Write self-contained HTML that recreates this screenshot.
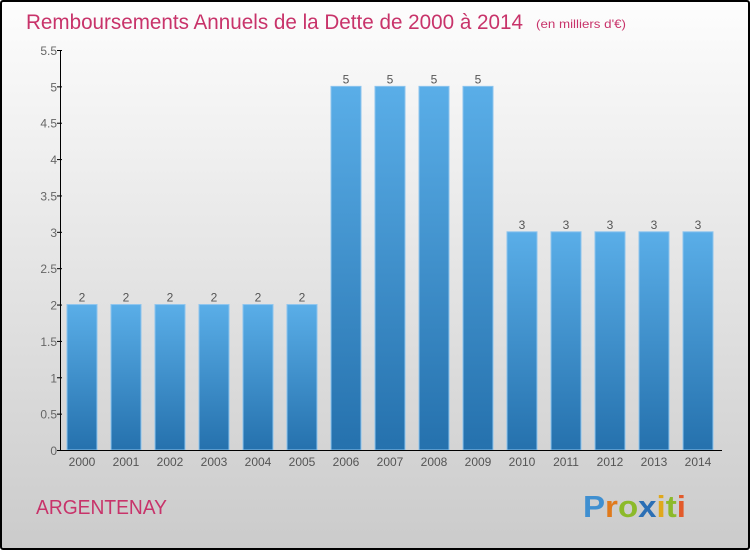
<!DOCTYPE html>
<html><head><meta charset="utf-8"><style>
html,body{margin:0;padding:0}
body{width:750px;height:550px;overflow:hidden;font-family:"Liberation Sans",sans-serif}
#frame{position:absolute;left:0;top:0;width:746px;height:546px;border:2px solid #000;border-radius:3px;background:linear-gradient(#fdfdfd,#cbcbcb)}
</style></head><body>
<div id="frame"></div>
<svg id="chart" width="750" height="550" style="position:absolute;left:0;top:0">
<defs><linearGradient id="bg" x1="0" y1="0" x2="0" y2="1"><stop offset="0" stop-color="#5aaee8"/><stop offset="1" stop-color="#2571ad"/></linearGradient></defs>
<text x="26" y="29" font-size="21" textLength="497" lengthAdjust="spacingAndGlyphs" fill="#c8336a">Remboursements Annuels de la Dette de 2000 à 2014</text>
<text x="536" y="28" font-size="12" textLength="90" lengthAdjust="spacingAndGlyphs" fill="#c8336a">(en milliers d'€)</text>
<g id="bars"></g>
<g id="axes"></g>
<text x="36" y="514" font-size="20" textLength="131" lengthAdjust="spacingAndGlyphs" fill="#c8336a">ARGENTENAY</text>
<g font-size="31" font-weight="bold">
<text x="583" y="517" textLength="103" lengthAdjust="spacingAndGlyphs"><tspan fill="#3f8fd0">P</tspan><tspan fill="#e07a1c">r</tspan><tspan fill="#8cba2a">o</tspan><tspan fill="#2b6fb5">x</tspan><tspan fill="#e0a81c">i</tspan><tspan fill="#8cba2a">t</tspan><tspan fill="#e35a2a">i</tspan></text>
</g>
</svg>
<script>
const categories=["2000","2001","2002","2003","2004","2005","2006","2007","2008","2009","2010","2011","2012","2013","2014"];
const values=[2,2,2,2,2,2,5,5,5,5,3,3,3,3,3];
const yTicks=[0,0.5,1,1.5,2,2.5,3,3.5,4,4.5,5,5.5];
const yTickLabels=["0","0.5","1","1.5","2","2.5","3","3.5","4","4.5","5","5.5"];
const NS="http://www.w3.org/2000/svg";
const y=v=>450-v*400/5.5;
const x=i=>82+i*44;
const bars=document.getElementById('bars'),axes=document.getElementById('axes');
function mk(t,a,p){const e=document.createElementNS(NS,t);for(const k in a)e.setAttribute(k,a[k]);p.appendChild(e);return e;}
values.forEach((v,i)=>{
 const r=mk('rect',{x:x(i)-15,y:y(v),width:30,height:450-y(v),fill:'url(#bg)',stroke:'#8cc4ee','stroke-width':1},bars);
 
 
 const t=mk('text',{x:x(i),y:y(v)-3,'text-anchor':'middle','font-size':12,fill:'#555'},bars);t.textContent=v;
 
 
 const c=mk('text',{x:x(i),y:466,'text-anchor':'middle','font-size':12,fill:'#555'},axes);c.textContent=categories[i];
 
 
});
mk('line',{x1:60.5,y1:y(5.5),x2:60.5,y2:450.5,stroke:'#000'},axes);
mk('line',{x1:60,y1:450.5,x2:722,y2:450.5,stroke:'#000'},axes);
yTicks.forEach((v,i)=>{
 mk('line',{x1:57,y1:y(v)+.5,x2:62,y2:y(v)+.5,stroke:'#000'},axes);
 const t=mk('text',{x:57,y:y(v)+5,'text-anchor':'end','font-size':12,fill:'#666'},axes);t.textContent=yTickLabels[i];
 
 
});
</script>
</body></html>
